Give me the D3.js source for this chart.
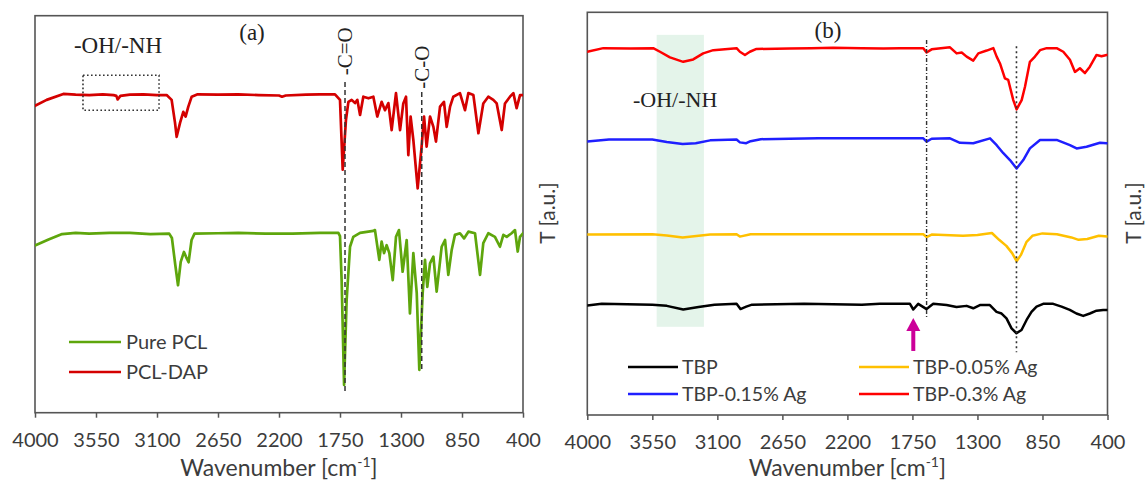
<!DOCTYPE html>
<html><head><meta charset="utf-8">
<script src="https://cdn.jsdelivr.net/npm/d3@7"></script>
<style>body{margin:0;background:#fff}svg{display:block}</style>
</head><body>
<svg id="c" width="1145" height="482"></svg>
<script>
// ---------- DATA ----------
const waveTicks = [4000, 3550, 3100, 2650, 2200, 1750, 1300, 850, 400];

// Panel (a): [wavenumber, T (a.u.)]
const pclDAP = [[4000,77.3],[3914,78.8],[3791,80.3],[3700,80.1],[3600,80.0],[3500,80.2],[3420,80.0],[3400,79.8],[3390,78.9],[3370,79.8],[3300,80.1],[3200,80.2],[3100,80.0],[3029,80.0],[2992,78.8],[2967,73.0],[2955,69.5],[2930,73.0],[2906,75.8],[2889,74.6],[2869,77.1],[2844,79.6],[2800,80.2],[2650,80.1],[2500,80.2],[2350,80.0],[2200,79.9],[2178,79.6],[2150,79.9],[2000,80.1],[1900,80.2],[1787,80.2],[1750,78.8],[1730,61.2],[1706,73.8],[1688,78.3],[1664,78.8],[1639,78.0],[1622,78.8],[1602,75.0],[1578,79.6],[1540,79.2],[1504,79.6],[1475,74.6],[1443,78.3],[1418,76.2],[1393,78.0],[1369,71.2],[1337,80.5],[1307,71.2],[1283,77.9],[1263,79.6],[1246,64.9],[1229,74.6],[1209,68.7],[1177,56.5],[1148,67.0],[1130,74.6],[1111,67.0],[1086,74.6],[1061,72.0],[1042,68.3],[1012,77.1],[983,78.3],[963,72.0],[938,77.1],[914,79.6],[865,80.5],[828,76.2],[803,80.5],[766,80.0],[729,70.4],[693,77.9],[656,79.6],[619,78.8],[594,77.9],[557,71.2],[533,77.9],[496,79.6],[471,80.5],[447,76.7],[422,80.0],[400,80.0]];

const purePCL = [[4000,42.1],[3900,43.6],[3800,45.0],[3700,45.3],[3600,45.1],[3450,45.3],[3300,45.3],[3150,45.0],[3010,45.1],[2990,44.0],[2965,37.2],[2945,32.1],[2925,38.0],[2901,40.5],[2885,39.2],[2867,37.9],[2845,43.5],[2823,45.1],[2650,45.2],[2500,45.3],[2300,45.1],[2100,45.1],[1897,45.3],[1762,45.3],[1750,44.5],[1738,33.4],[1720,7.0],[1701,28.4],[1676,41.8],[1652,44.3],[1602,45.3],[1504,45.8],[1492,46.0],[1460,38.5],[1443,43.1],[1425,40.2],[1406,42.2],[1386,40.2],[1361,33.4],[1337,44.3],[1315,46.0],[1288,35.5],[1258,43.5],[1234,25.0],[1209,40.2],[1184,30.2],[1165,10.8],[1140,30.2],[1123,38.5],[1106,31.7],[1086,37.6],[1061,39.3],[1037,30.5],[1000,41.8],[975,43.5],[951,34.7],[926,41.0],[902,44.8],[865,45.2],[835,43.9],[803,45.6],[754,45.2],[717,34.7],[693,42.7],[656,45.2],[607,44.3],[570,41.8],[545,44.8],[520,44.3],[484,45.2],[459,46.0],[439,40.6],[422,44.3],[400,45.2]];

// Panel (b): [wavenumber, T (a.u.)]
const tbp03 = [[4000,90.2],[3889,91.1],[3700,91.0],[3544,91.1],[3497,90.2],[3428,88.8],[3336,87.7],[3267,88.3],[3198,89.8],[3128,90.6],[2967,91.1],[2944,90.2],[2909,89.4],[2875,90.2],[2829,90.9],[2600,91.0],[2450,91.1],[2300,91.2],[2100,91.1],[1950,91.0],[1836,91.1],[1675,91.1],[1652,90.0],[1617,90.8],[1490,91.3],[1444,89.8],[1409,90.0],[1375,89.0],[1329,88.0],[1294,89.8],[1236,90.5],[1190,91.1],[1167,89.0],[1144,87.3],[1110,83.6],[1087,83.2],[1052,78.2],[1029,75.9],[994,78.2],[971,81.5],[937,87.7],[902,89.0],[867,90.6],[821,91.1],[752,91.1],[706,90.2],[660,88.2],[625,85.2],[591,86.1],[556,84.9],[522,86.5],[476,89.4],[441,89.1],[406,89.4],[400,89.4]];

const tbp015 = [[4000,67.9],[3850,68.4],[3550,68.4],[3450,67.8],[3340,67.3],[3250,67.5],[3150,68.2],[2967,68.4],[2944,67.7],[2900,67.5],[2870,68.0],[2800,68.5],[2600,68.6],[2400,68.7],[2100,68.7],[1836,68.7],[1675,68.7],[1652,67.9],[1617,68.6],[1490,68.7],[1421,67.6],[1329,67.5],[1213,68.7],[1167,67.0],[1121,65.0],[1075,63.3],[1029,61.2],[983,63.3],[937,66.2],[867,68.3],[752,68.3],[660,67.0],[614,66.2],[545,66.6],[452,67.6],[406,67.5],[400,67.5]];

const tbp005 = [[4000,44.8],[3550,44.9],[3450,44.6],[3340,44.1],[3150,44.8],[2967,44.9],[2944,44.3],[2870,44.9],[2500,44.9],[2100,44.9],[1675,44.9],[1652,44.2],[1617,44.8],[1400,44.5],[1300,44.7],[1200,45.2],[1150,43.5],[1100,42.0],[1060,40.2],[1029,38.2],[1000,39.7],[960,43.0],[920,44.5],[850,45.1],[750,44.9],[650,44.1],[600,43.5],[540,43.7],[460,44.5],[400,44.3]];

const tbp = [[4000,27.2],[3900,27.6],[3550,27.4],[3450,27.1],[3336,26.2],[3230,26.8],[3120,27.4],[2967,27.6],[2940,26.3],[2900,26.9],[2860,27.4],[2500,27.6],[2100,27.4],[1975,27.6],[1767,27.6],[1744,26.2],[1710,27.6],[1652,26.3],[1606,27.6],[1514,27.3],[1445,26.8],[1375,27.1],[1329,26.5],[1283,27.3],[1214,27.3],[1168,25.6],[1133,25.2],[1099,24.0],[1064,21.5],[1030,20.3],[995,21.1],[960,23.6],[926,25.6],[891,26.9],[845,27.6],[776,27.6],[718,26.9],[661,26.1],[615,25.2],[568,24.6],[522,25.2],[476,25.9],[430,26.1],[400,26.1]];

// annotations (wavenumber / a.u.)
const coLinesA = [{w:1713, top:83.3, bot:5.2, label:"-C=O", lab:85.0},{w:1147, top:80.8, bot:10.3, label:"-C-O", lab:81.6}];
const ohBoxA = {w0:3646, w1:3085, t0:85.0, t1:76.2};
const ohBandB = {w0:3520, w1:3193, t0:94.4, t1:21.9};
const dashDotB = {w:1652, top:93.1, bot:24.1};
const dottedB = {w:1030, top:91.6, bot:15.6};
const arrowB = {w:1744, tip:24.1, tail:15.9};

// ---------- DRAW ----------
const svg = d3.select("#c");
const sans = "Lato, 'Open Sans', sans-serif";
const serif = "'Liberation Serif', 'DejaVu Serif', serif";
const txtCol = "#3c3c3c";

function panel(id, x0, x1, y0, y1) {
  const x = d3.scaleLinear().domain([4000, 400]).range([x0, x1]);
  const y = d3.scaleLinear().domain([0, 100]).range([y1, y0]);
  const g = svg.append("g");
  g.append("clipPath").attr("id", "clip" + id).append("rect")
    .attr("x", x0).attr("y", y0).attr("width", x1 - x0).attr("height", y1 - y0);
  const ax = g.append("g").attr("transform", `translate(0,${y1})`)
    .call(d3.axisBottom(x).tickValues(waveTicks).tickSize(5).tickFormat(d3.format("d")));
  ax.select(".domain").remove();
  ax.selectAll(".tick line").attr("stroke", "#555").attr("stroke-width", 1.5);
  ax.selectAll(".tick text").attr("y", 34).attr("dy", 0)
    .style("font-family", sans).style("font-size", "20px").attr("fill", txtCol);
  g.append("rect").attr("x", x0).attr("y", y0).attr("width", x1 - x0).attr("height", y1 - y0)
    .attr("fill", "none").attr("stroke", "#555").attr("stroke-width", 1.6);
  const t = g.append("text").attr("x", (x0 + x1) / 2).attr("y", 476).attr("text-anchor", "middle")
    .style("font-family", sans).style("font-size", "23px").attr("fill", txtCol);
  t.append("tspan").text("Wavenumber [cm");
  t.append("tspan").text("-1").attr("dy", -9).style("font-size", "14px");
  t.append("tspan").text("]").attr("dy", 9);
  return {x, y, g, plot: g.append("g").attr("clip-path", `url(#clip${id})`)};
}

function yLabel(cx) {
  svg.append("text").attr("transform", `translate(${cx},213) rotate(-90)`)
    .attr("text-anchor", "middle").attr("dy", "0.35em")
    .style("font-family", sans).style("font-size", "21px").attr("fill", txtCol).text("T [a.u.]");
}

function drawLine(p, data, color, w) {
  const line = d3.line().x(d => p.x(d[0])).y(d => p.y(d[1]));
  p.plot.append("path").datum(data).attr("d", line).attr("fill", "none")
    .attr("stroke", color).attr("stroke-width", w).attr("stroke-linejoin", "round").attr("stroke-linecap", "round");
}

// ---- Panel (a)
const A = panel("a", 35, 523, 15.7, 412.7);
drawLine(A, purePCL, "#5ea60c", 2.7);
drawLine(A, pclDAP, "#d40000", 2.7);
coLinesA.forEach(c => {
  A.g.append("line").attr("x1", A.x(c.w)).attr("x2", A.x(c.w)).attr("y1", A.y(c.top)).attr("y2", A.y(c.bot))
    .attr("stroke", "#333").attr("stroke-width", 1.5).attr("stroke-dasharray", "5,3");
  A.g.append("text").attr("transform", `translate(${A.x(c.w) + 7},${A.y(c.lab)}) rotate(-90)`)
    .attr("text-anchor", "start").style("font-family", serif).style("font-size", "21px").attr("fill", "#222").text(c.label);
});
A.g.append("rect").attr("x", A.x(ohBoxA.w0)).attr("y", A.y(ohBoxA.t0))
  .attr("width", A.x(ohBoxA.w1) - A.x(ohBoxA.w0)).attr("height", A.y(ohBoxA.t1) - A.y(ohBoxA.t0))
  .attr("fill", "none").attr("stroke", "#333").attr("stroke-width", 1.6).attr("stroke-dasharray", "1.6,2.4");
A.g.append("text").attr("x", A.x(3388)).attr("y", A.y(90.6)).attr("text-anchor", "middle")
  .style("font-family", serif).style("font-size", "23px").attr("fill", "#222").text("-OH/-NH");
A.g.append("text").attr("x", A.x(2399)).attr("y", A.y(93.9)).attr("text-anchor", "middle")
  .style("font-family", serif).style("font-size", "23px").attr("fill", "#222").text("(a)");
// legend (a)
const legA = [{n:"Pure PCL", c:"#5ea60c"},{n:"PCL-DAP", c:"#d40000"}];
legA.forEach((d, i) => {
  const yy = 342 + i * 30;
  A.g.append("line").attr("x1", 69).attr("x2", 121).attr("y1", yy).attr("y2", yy).attr("stroke", d.c).attr("stroke-width", 2.7);
  A.g.append("text").attr("x", 126).attr("y", yy).attr("dy", "0.36em").style("font-family", sans)
    .style("font-size", "20px").attr("fill", txtCol).text(d.n);
});
yLabel(548);

// ---- Panel (b)
const B = panel("b", 587.3, 1107.5, 12.3, 415);
B.plot.append("rect").attr("x", B.x(ohBandB.w0)).attr("y", B.y(ohBandB.t0))
  .attr("width", B.x(ohBandB.w1) - B.x(ohBandB.w0)).attr("height", B.y(ohBandB.t1) - B.y(ohBandB.t0))
  .attr("fill", "#e4f4ea");
drawLine(B, tbp, "#000000", 2.5);
drawLine(B, tbp005, "#ffc000", 2.5);
drawLine(B, tbp015, "#1f1fff", 2.5);
drawLine(B, tbp03, "#ff0000", 2.5);
B.g.append("line").attr("x1", B.x(dashDotB.w)).attr("x2", B.x(dashDotB.w)).attr("y1", B.y(dashDotB.top)).attr("y2", B.y(dashDotB.bot))
  .attr("stroke", "#333").attr("stroke-width", 1.4).attr("stroke-dasharray", "4,2,1,2");
B.g.append("line").attr("x1", B.x(dottedB.w)).attr("x2", B.x(dottedB.w)).attr("y1", B.y(dottedB.top)).attr("y2", B.y(dottedB.bot))
  .attr("stroke", "#333").attr("stroke-width", 1.6).attr("stroke-dasharray", "2,3");
B.g.append("text").attr("x", B.x(3392)).attr("y", B.y(76.5)).attr("text-anchor", "middle")
  .style("font-family", serif).style("font-size", "22px").attr("fill", "#222").text("-OH/-NH");
B.g.append("text").attr("x", B.x(2335)).attr("y", B.y(93.6)).attr("text-anchor", "middle")
  .style("font-family", serif).style("font-size", "23px").attr("fill", "#222").text("(b)");
// arrow
const ax_ = B.x(arrowB.w), tipY = B.y(arrowB.tip), tailY = B.y(arrowB.tail);
B.g.append("line").attr("x1", ax_).attr("x2", ax_).attr("y1", tailY).attr("y2", tipY + 10)
  .attr("stroke", "#cc0099").attr("stroke-width", 4);
B.g.append("path").attr("d", `M${ax_ - 7},${tipY + 13} L${ax_},${tipY} L${ax_ + 7},${tipY + 13} Z`).attr("fill", "#cc0099");
// legend (b)
const legB = [{n:"TBP", c:"#000000", x:628, y:367},{n:"TBP-0.05% Ag", c:"#ffc000", x:859, y:367},
              {n:"TBP-0.15% Ag", c:"#1f1fff", x:628, y:394},{n:"TBP-0.3% Ag", c:"#ff0000", x:859, y:394}];
legB.forEach(d => {
  B.g.append("line").attr("x1", d.x).attr("x2", d.x + 50).attr("y1", d.y).attr("y2", d.y).attr("stroke", d.c).attr("stroke-width", 2.7);
  B.g.append("text").attr("x", d.x + 54).attr("y", d.y).attr("dy", "0.36em").style("font-family", sans)
    .style("font-size", "19.5px").attr("fill", txtCol).text(d.n);
});
yLabel(1134);
</script>
</body></html>
